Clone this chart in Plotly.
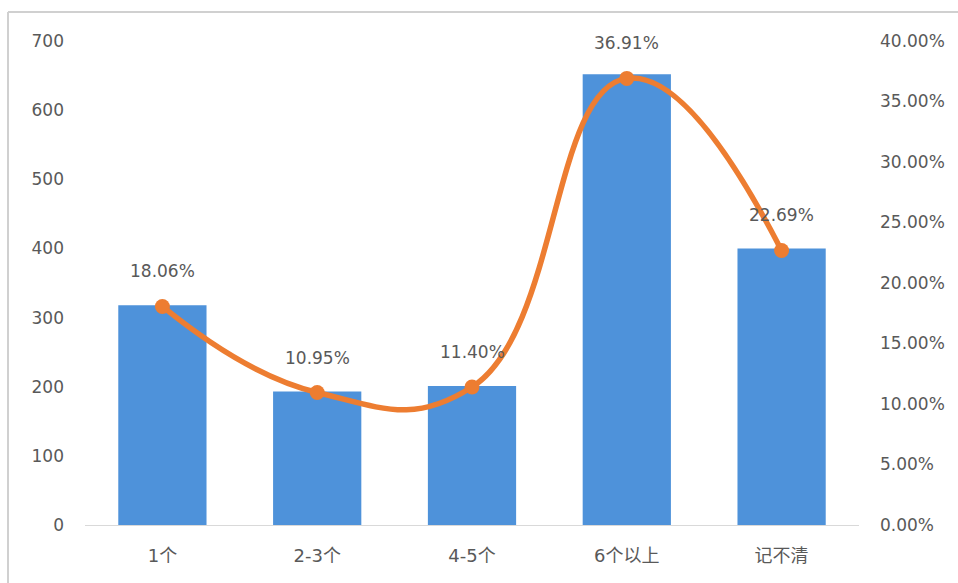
import plotly.graph_objects as go

categories = ["1个", "2-3个", "4-5个", "6个以上", "记不清"]
counts = [318, 193, 201, 652, 400]
shares = [18.06, 10.95, 11.40, 36.91, 22.69]
left_ticks = [0, 100, 200, 300, 400, 500, 600, 700]
right_ticks = [0, 5, 10, 15, 20, 25, 30, 35, 40]

font_family = "DejaVu Sans, Noto Sans CJK SC, sans-serif"
grey = "#595959"

fig = go.Figure()
fig.add_trace(go.Bar(
    x=categories, y=counts, marker=dict(color="#4E92DA", line=dict(width=0)),
    width=0.57, yaxis="y", showlegend=False, hoverinfo="skip"))
fig.add_trace(go.Scatter(
    x=categories, y=shares, yaxis="y2", mode="lines+markers",
    line=dict(color="#ED7D31", width=5.5, shape="spline", smoothing=1.3),
    marker=dict(color="#ED7D31", size=15), showlegend=False))

for c, s in zip(categories, shares):
    fig.add_annotation(x=c, y=s, yref="y2", text=f"{s:.2f}%", showarrow=False,
                       yshift=35, font=dict(size=17, color=grey, family=font_family))

fig.update_layout(
    width=958, height=583,
    margin=dict(l=85, r=99, t=41, b=58),
    paper_bgcolor="white", plot_bgcolor="white",
    font=dict(family=font_family, size=17, color=grey),
    xaxis=dict(showline=True, linecolor="#D9D9D9", linewidth=1, ticks="",
               ticklabelstandoff=14,
               tickfont=dict(size=18, color=grey), showgrid=False),
    yaxis=dict(range=[0, 700], tickvals=left_ticks, showgrid=False, zeroline=False,
               showline=False, ticklabelstandoff=20, tickfont=dict(size=17, color=grey)),
    yaxis2=dict(range=[0, 40], tickvals=right_ticks, ticktext=[f"{v:.2f}%" for v in right_ticks],
                overlaying="y", side="right", showgrid=False, zeroline=False, showline=False,
                ticklabelstandoff=20, tickfont=dict(size=17, color=grey)),
    shapes=[
        dict(type="line", xref="paper", yref="paper", x0=-0.0995, x1=1.2, y0=1.06, y1=1.06,
             line=dict(color="#D0D0D0", width=2)),
        dict(type="line", xref="paper", yref="paper", x0=-0.0995, x1=-0.0995, y0=1.06, y1=-0.2,
             line=dict(color="#D0D0D0", width=2)),
    ],
)

fig.write_html("out.html")
